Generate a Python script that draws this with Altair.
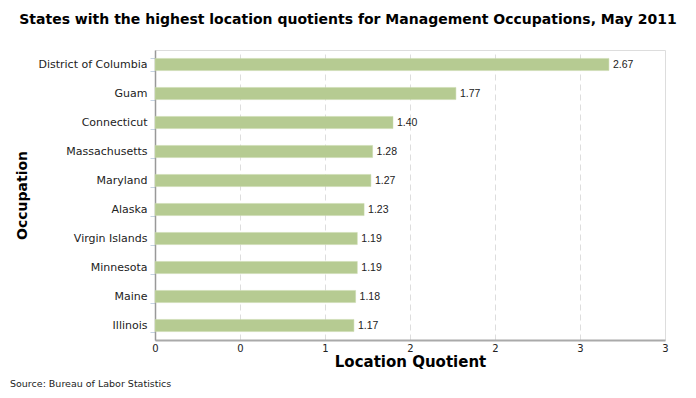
import altair as alt
import pandas as pd

states = ["District of Columbia", "Guam", "Connecticut", "Massachusetts", "Maryland",
          "Alaska", "Virgin Islands", "Minnesota", "Maine", "Illinois"]
values = [2.67, 1.77, 1.40, 1.28, 1.27, 1.23, 1.19, 1.19, 1.18, 1.17]
tick_values = [0, 0.5, 1, 1.5, 2, 2.5, 3]
tick_labels = ["0", "0", "1", "2", "2", "3", "3"]
source_text = ["Source: Bureau of Labor Statistics"]

df = pd.DataFrame({"state": states, "lq": values})

label_expr = "[" + ",".join("'%s'" % t for t in tick_labels) + "][indexof([" + \
    ",".join(str(v) for v in tick_values) + "], datum.value)]"

FONT = "DejaVu Sans"

y_enc = alt.Y("state:N", sort=states, title="Occupation",
              scale=alt.Scale(paddingInner=0.58, paddingOuter=0.29),
              axis=alt.Axis(tickBand="extent", tickColor="#c5d3e2", tickSize=5,
                            domainColor="#999999", domainWidth=1.5,
                            labelFont=FONT, labelFontSize=11, labelColor="#222222",
                            labelPadding=3, titleFont=FONT, titleFontSize=14,
                            titleFontWeight="bold", titleColor="#000000",
                            titlePadding=8))

x_enc = alt.X("lq:Q", title="Location Quotient",
              scale=alt.Scale(domain=[0, 3], nice=False, zero=True),
              axis=alt.Axis(values=tick_values, labelExpr=label_expr, ticks=False,
                            labelFlush=False,
                            domainColor="#aaaaaa", domainWidth=2,
                            grid=True, gridDash=[6, 4], gridColor="#dddddd",
                            labelFont=FONT, labelFontSize=10, labelColor="#222222",
                            labelPadding=3, titleFont=FONT, titleFontSize=15,
                            titleFontWeight="bold", titleColor="#000000",
                            titlePadding=1))

bars = alt.Chart(df).mark_bar(color="#b6cb92", stroke="#c8d8ac", strokeWidth=0.5).encode(
    x=x_enc, y=y_enc)

labels = alt.Chart(df).mark_text(align="left", baseline="middle", dx=4,
                                 font="Liberation Sans", fontSize=10.5,
                                 color="#222222").encode(
    x="lq:Q", y=alt.Y("state:N", sort=states),
    text=alt.Text("lq:Q", format=".2f"))

src = alt.Chart(pd.DataFrame({"t": source_text})).mark_text(
    align="left", baseline="middle", font=FONT, fontSize=9.5, color="#222222").encode(
    x=alt.value(-145), y=alt.value(334), text="t:N")

chart = alt.layer(bars, labels, src).properties(
    width=510, height=290,
    autosize=alt.AutoSizeParams(type="none"),
    padding={"left": 147, "top": 42, "right": 23, "bottom": 50},
    title=alt.TitleParams("States with the highest location quotients for Management Occupations, May 2011",
                          font=FONT, fontSize=14, fontWeight="bold", color="#000000",
                          anchor="middle", dx=-62, offset=17),
).configure_view(stroke=None).configure(background="white")

chart.save("out.html", embed_options={"renderer": "svg", "actions": False})
